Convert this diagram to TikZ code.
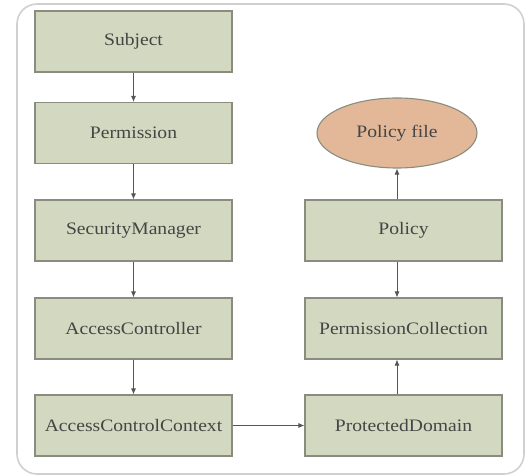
\documentclass[tikz,border=0pt]{standalone}
\usepackage{fontspec}
\usetikzlibrary{shapes.geometric,arrows.meta}
\setmainfont{Liberation Serif}
\definecolor{boxfill}{HTML}{D3D8C1}
\definecolor{boxline}{HTML}{8A8C80}
\definecolor{ovalfill}{HTML}{E2B898}
\definecolor{textgrey}{HTML}{454545}
\definecolor{arrowgrey}{HTML}{555555}
\definecolor{framegrey}{HTML}{D0D0D0}
% labels are set slightly widened
\newcommand{\widelabel}[1]{\scalebox{1.12}[1]{#1}}
\begin{document}
\begin{tikzpicture}[x=1pt,y=-1pt,
  classbox/.style={draw=boxline, line width=1.1pt, fill=boxfill,
    minimum width=197pt, minimum height=61pt, inner sep=0pt,
    text=textgrey, font=\rmfamily\fontsize{17.5}{20}\selectfont},
  fileoval/.style={ellipse, draw=boxline, line width=1.1pt, fill=ovalfill,
    minimum width=160pt, minimum height=70pt, inner sep=0pt,
    text=textgrey, font=\rmfamily\fontsize{17.5}{20}\selectfont},
  link/.style={draw=arrowgrey, line width=0.9pt,
    -{Latex[length=6pt,width=5pt]}}]
  \useasboundingbox (0,0) rectangle (528,476);
  % outer frame
  \draw[framegrey, line width=1.6pt, rounded corners=20pt] (17,4) rectangle (524,474);

  % left column
  \node[classbox] (subj) at (133.5,41.5) {\widelabel{Subject}};
  \node[classbox] (perm) at (133.5,133) {\widelabel{Permission}};
  \node[classbox] (secm) at (133.5,230.5) {\widelabel{SecurityManager}};
  \node[classbox] (accc) at (133.5,328.5) {\widelabel{AccessController}};
  \node[classbox] (actx) at (133.5,425.5) {\widelabel{AccessControlContext}};

  % right column
  \node[fileoval] (pfile) at (397,133) {\widelabel{Policy file}};
  \node[classbox] (pol) at (403.5,230.5) {\widelabel{Policy}};
  \node[classbox] (pcol) at (403.5,328.5) {\widelabel{PermissionCollection}};
  \node[classbox] (pdom) at (403.5,425.5) {\widelabel{ProtectedDomain}};

  % connectors
  \draw[link] (subj) -- (perm);
  \draw[link] (perm) -- (secm);
  \draw[link] (secm) -- (accc);
  \draw[link] (accc) -- (actx);
  \draw[link] (actx) -- (pdom);
  \draw[link] (pdom.north -| 397,0) -- (pcol.south -| 397,0);
  \draw[link] (pol.south -| 397,0) -- (pcol.north -| 397,0);
  \draw[link] (pol.north -| 397,0) -- (pfile);
\end{tikzpicture}
\end{document}
